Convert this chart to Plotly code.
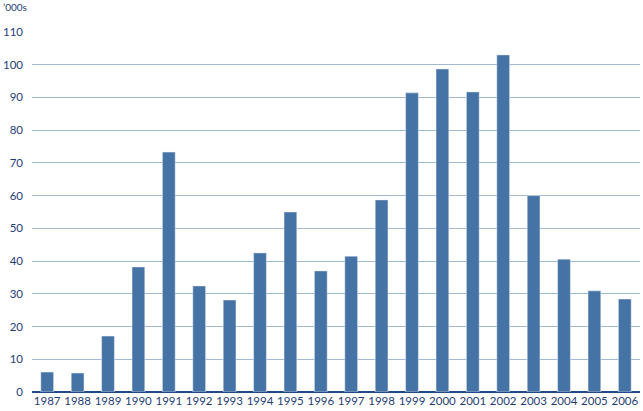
import plotly.graph_objects as go

years = ["1987","1988","1989","1990","1991","1992","1993","1994","1995","1996",
         "1997","1998","1999","2000","2001","2002","2003","2004","2005","2006"]
values = [6.1, 5.8, 17.1, 38.2, 73.3, 32.4, 28.1, 42.5, 55.0, 37.0,
          41.5, 58.7, 91.4, 98.7, 91.7, 103.0, 60.0, 40.6, 30.9, 28.4]
y_ticks = [0, 10, 20, 30, 40, 50, 60, 70, 80, 90, 100, 110]
unit_label = "’000s"

text_color = "#1f3d73"
font_family = "Lato, 'DejaVu Sans', sans-serif"

fig = go.Figure(go.Bar(x=years, y=values, marker_color="#4673a6", width=0.42))

fig.update_layout(
    width=643, height=411,
    margin=dict(l=32, r=3, t=32, b=19),
    plot_bgcolor="white", paper_bgcolor="white",
    showlegend=False,
    font=dict(family=font_family, color=text_color, size=11),
    xaxis=dict(type="category", showgrid=False, ticks="", showline=False,
               tickfont=dict(size=11.5, color=text_color), ticklen=0),
    yaxis=dict(range=[0, 110], tickvals=y_ticks, showgrid=True,
               gridcolor="#a3b9d2", gridwidth=1, zeroline=True,
               zerolinecolor="#1f4a85", zerolinewidth=2,
               ticks="", tickfont=dict(size=11.5, color=text_color), ticklabelstandoff=8),
    annotations=[dict(text=unit_label, x=0, y=1, xref="paper", yref="paper",
                      xshift=-31, yshift=17, xanchor="left", yanchor="bottom",
                      showarrow=False, font=dict(size=10, color=text_color))],
)

fig.write_html("out.html",
               config={"displayModeBar": False},
               post_script="document.body.style.margin='0';document.body.style.padding='0';")
